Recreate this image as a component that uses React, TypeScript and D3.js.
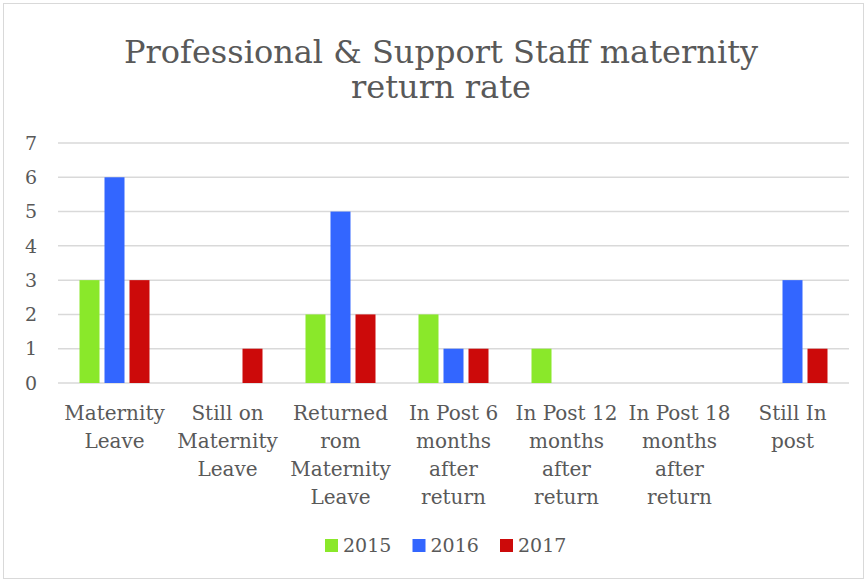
import * as React from 'react'
import * as d3 from 'd3'

const WIDTH = 866
const HEIGHT = 581
const MARGIN = { top: 143, right: 17, bottom: 198, left: 58 }
const PLOT_W = WIDTH - MARGIN.left - MARGIN.right
const PLOT_H = HEIGHT - MARGIN.top - MARGIN.bottom
const FONT = '"DejaVu Serif", Georgia, serif'
const TEXT_COLOR = '#595959'

const TITLE = ['Professional & Support Staff maternity', 'return rate']
const categories = [
  'Maternity\nLeave',
  'Still on\nMaternity\nLeave',
  'Returned\nrom\nMaternity\nLeave',
  'In Post 6\nmonths\nafter\nreturn',
  'In Post 12\nmonths\nafter\nreturn',
  'In Post 18\nmonths\nafter\nreturn',
  'Still In\npost'
]
const seriesNames = ['2015', '2016', '2017']
const seriesColors = ['#8AE82A', '#3366FF', '#CC0A0A']
const values2015 = [3, 0, 2, 2, 1, 0, 0]
const values2016 = [6, 0, 5, 1, 0, 0, 3]
const values2017 = [3, 1, 2, 1, 0, 0, 1]
const yTicks = [0, 1, 2, 3, 4, 5, 6, 7]

const seriesValues = [values2015, values2016, values2017]

export default function App() {
  const x = d3
    .scaleBand<string>()
    .domain(categories)
    .range([0, PLOT_W])
    .paddingInner(0)
    .paddingOuter(0)
  const xInner = d3
    .scaleBand<string>()
    .domain(seriesNames)
    .range([21.5, x.bandwidth() - 21.5])
    .paddingInner(0.2)
  const y = d3.scaleLinear().domain([0, 7]).range([PLOT_H, 0])

  return (
    <svg
      width={WIDTH}
      height={HEIGHT}
      style={{ position: 'absolute', left: 0, top: 0, background: '#fff' }}
    >
      <rect x={3.5} y={3.5} width={WIDTH - 6} height={HEIGHT - 6} fill="#fff" stroke="#d9d9d9" />
      <g fill={TEXT_COLOR} fontFamily={FONT} textAnchor="middle">
        {TITLE.map((t, i) => (
          <text key={t} x={WIDTH / 2 + 8} y={63 + i * 35} fontSize={32}>
            {t}
          </text>
        ))}
      </g>
      <g transform={`translate(${MARGIN.left},${MARGIN.top})`}>
        {yTicks.map(t => (
          <g key={t}>
            <line x1={0} x2={PLOT_W} y1={y(t)} y2={y(t)} stroke="#d9d9d9" strokeWidth={1.5} />
            <text
              x={-21}
              y={y(t)}
              dy="0.35em"
              textAnchor="end"
              fontFamily={FONT}
              fontSize={19}
              fill={TEXT_COLOR}
            >
              {t}
            </text>
          </g>
        ))}
        {categories.map((c, ci) => (
          <g key={c} transform={`translate(${x(c)},0)`}>
            {seriesNames.map((s, si) => {
              const v = seriesValues[si][ci]
              if (!v) return null
              return (
                <rect
                  key={s}
                  x={xInner(s)}
                  y={y(v)}
                  width={xInner.bandwidth()}
                  height={y(0) - y(v)}
                  fill={seriesColors[si]}
                />
              )
            })}
            <text
              fontFamily={FONT}
              fontSize={20}
              fill={TEXT_COLOR}
              textAnchor="middle"
            >
              {c.split('\n').map((line, li) => (
                <tspan key={li} x={x.bandwidth() / 2} y={PLOT_H + 37 + li * 28}>
                  {line}
                </tspan>
              ))}
            </text>
          </g>
        ))}
      </g>
      <g fontFamily={FONT} fontSize={19} fill={TEXT_COLOR}>
        {seriesNames.map((s, i) => {
          const lx = d3.scaleLinear().domain([0, 2]).range([325, 500])(i)
          return (
            <g key={s}>
              <rect x={lx} y={539} width={13} height={13} fill={seriesColors[i]} />
              <text x={lx + 18} y={552}>
                {s}
              </text>
            </g>
          )
        })}
      </g>
    </svg>
  )
}
